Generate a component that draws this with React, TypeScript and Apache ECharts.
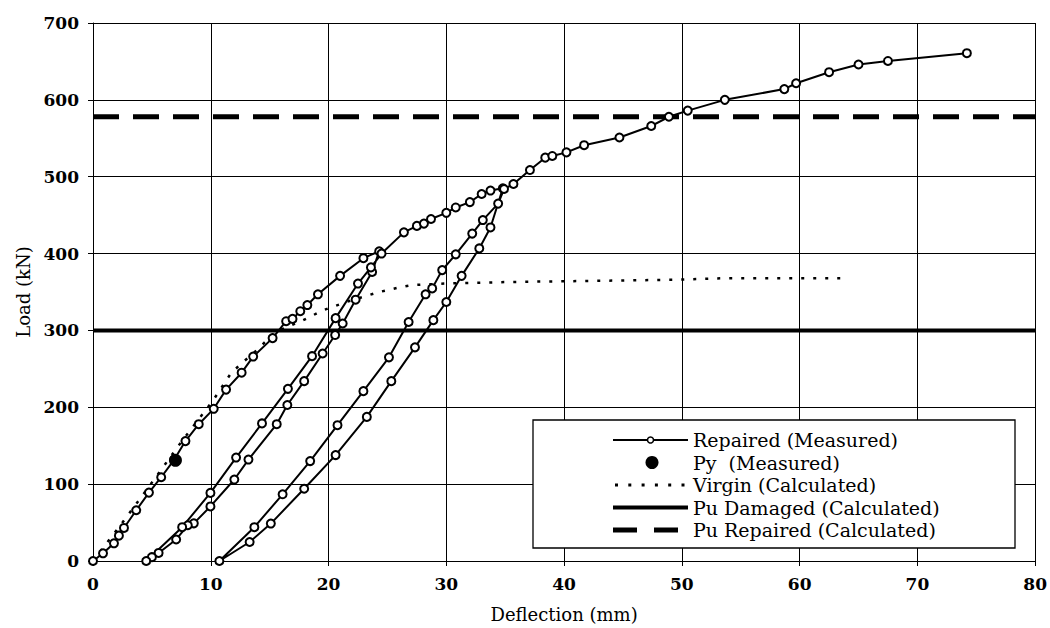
import React, { useEffect, useRef } from "react";
import * as echarts from "echarts";

// Repaired (Measured) – path segments in test order
const envelope1: number[][] = [
  [0, 0], [0.85, 10], [1.78, 23], [2.2, 33], [2.63, 43], [3.67, 66], [4.75, 89], [5.79, 109],
  [6.9, 132], [7.85, 156], [8.98, 178], [10.25, 198], [11.3, 223], [12.62, 245], [13.6, 266],
  [15.25, 290], [16.4, 312], [16.94, 315], [17.6, 325], [18.2, 333], [19.1, 347], [20.98, 371],
  [22.96, 394], [24.3, 403],
];
const unload1: number[][] = [
  [23.7, 376], [22.3, 340], [21.2, 309], [20.56, 294], [19.5, 270], [17.93, 234], [16.5, 203],
  [15.6, 178], [13.2, 132], [12.0, 106], [9.97, 71], [8.56, 49], [8.05, 46.5], [7.06, 28],
  [5.57, 10.5], [5.0, 5], [4.52, 0],
];
const reload1: number[][] = [
  [7.57, 44], [9.97, 88.6], [12.15, 134.6], [14.35, 179], [16.55, 224], [18.6, 266.5],
  [20.6, 316], [22.5, 361], [23.6, 382], [24.5, 400],
];
const envelope2: number[][] = [
  [26.4, 427.6], [27.5, 436], [28.1, 439], [28.7, 445], [30.0, 453], [30.8, 460], [32.0, 467],
  [33.0, 477.5], [33.75, 482], [34.8, 485],
];
const unload2: number[][] = [
  [33.75, 434], [32.8, 406.7], [31.3, 371], [30.0, 337], [28.9, 313.4], [27.34, 278],
  [25.33, 234], [23.25, 187.5], [20.6, 137.8], [17.93, 94], [15.1, 48.7], [13.3, 24.7], [10.73, 0],
];
const reload2: number[][] = [
  [13.7, 44], [16.1, 86.8], [18.44, 130], [20.76, 176.7], [22.96, 221], [25.13, 265], [26.8, 311],
  [28.24, 347], [28.8, 354.7], [29.65, 378.5], [30.8, 399], [32.2, 426], [33.1, 443.6], [34.4, 465],
  [34.9, 484],
];
const envelope3: number[][] = [
  [35.7, 490.5], [37.1, 508.7], [38.4, 524.8], [39.0, 527], [40.2, 531.7], [41.7, 541],
  [44.7, 551], [47.4, 566], [48.9, 578], [50.5, 586], [53.65, 600], [58.7, 614], [59.7, 621.6],
  [62.5, 636], [65.0, 646], [67.5, 650.6], [74.2, 660.7],
];

// Py (Measured)
const pyPoint: number[][] = [[7.0, 131]];

// Virgin (Calculated)
const virgin: number[][] = [
  [0, 0], [2.5, 50], [5, 102], [7.5, 155], [10.2, 209], [11.7, 244], [12.6, 257], [13.6, 270],
  [15.5, 298], [17.8, 313], [19.5, 326], [21.5, 337], [24.3, 350], [26, 356], [27.1, 359],
  [29.9, 361], [35.3, 363], [49.7, 366], [53.7, 368], [64, 368],
];

// Horizontal capacity lines
const puDamaged = 300;
const puRepaired = 578;
const xRange = [0, 80];

const xTicks = { min: 0, max: 80, interval: 10 };
const yTicks = { min: 0, max: 700, interval: 100 };

const legendNames = [
  "Repaired (Measured)",
  "Py  (Measured)",
  "Virgin (Calculated)",
  "Pu Damaged (Calculated)",
  "Pu Repaired (Calculated)",
];

const FONT = "DejaVu Serif";

function buildLegend() {
  const boxX = 533, boxY = 420, boxW = 482, boxH = 128;
  const iconX1 = 613, iconX2 = 688, textX = 693;
  const rowY = [440, 462.5, 485, 507.5, 530];
  const els: any[] = [
    {
      type: "rect",
      shape: { x: boxX, y: boxY, width: boxW, height: boxH },
      style: { fill: "#fff", stroke: "#000", lineWidth: 1.3 },
    },
    // Repaired: line with small hollow circle
    { type: "line", shape: { x1: iconX1, y1: rowY[0], x2: iconX2, y2: rowY[0] }, style: { stroke: "#000", lineWidth: 2 } },
    { type: "circle", shape: { cx: 650.5, cy: rowY[0], r: 3 }, style: { fill: "#fff", stroke: "#000", lineWidth: 1.5 } },
    // Py: filled dot
    { type: "circle", shape: { cx: 652, cy: rowY[1], r: 6.5 }, style: { fill: "#000" } },
    // Virgin: dotted
    { type: "line", shape: { x1: 615, y1: rowY[2], x2: iconX2, y2: rowY[2] }, style: { stroke: "#000", lineWidth: 3, lineDash: [3, 10.3] } },
    // Pu Damaged: thick solid
    { type: "line", shape: { x1: iconX1, y1: rowY[3], x2: iconX2, y2: rowY[3] }, style: { stroke: "#000", lineWidth: 4 } },
    // Pu Repaired: dashed
    { type: "line", shape: { x1: iconX1, y1: rowY[4], x2: 678, y2: rowY[4] }, style: { stroke: "#000", lineWidth: 5, lineDash: [24, 17] } },
  ];
  legendNames.forEach((name, i) => {
    els.push({
      type: "text",
      x: textX,
      y: rowY[i],
      style: { text: name, font: `19px "${FONT}"`, fill: "#000", align: "left", verticalAlign: "middle" },
    });
  });
  return { type: "group", z: 10, children: els.map((e) => ({ ...e, z: 10 })) };
}

export default function App() {
  const ref = useRef<HTMLDivElement>(null);
  useEffect(() => {
    const chart = echarts.init(ref.current!, null, { renderer: "svg" });
    const repaired = [
      ...envelope1, ...unload1, ...reload1, ...envelope2, ...unload2, ...reload2, ...envelope3,
    ];
    const option: any = {
      animation: false,
      backgroundColor: "#fff",
      grid: { left: 93, right: 12, top: 23, bottom: 67, containLabel: false },
      xAxis: {
        type: "value",
        ...xTicks,
        name: "Deflection (mm)",
        nameLocation: "middle",
        nameGap: 44,
        nameTextStyle: { fontFamily: FONT, fontSize: 18, color: "#000" },
        axisLine: { show: true, lineStyle: { color: "#000", width: 1 } },
        axisTick: { show: true, length: 5, lineStyle: { color: "#000" } },
        axisLabel: { fontFamily: FONT, fontWeight: "bold", fontSize: 17, color: "#000", margin: 14 },
        splitLine: { show: true, lineStyle: { color: "#000", width: 1 } },
      },
      yAxis: {
        type: "value",
        ...yTicks,
        name: "Load (kN)",
        nameLocation: "middle",
        nameGap: 61,
        nameTextStyle: { fontFamily: FONT, fontSize: 18, color: "#000" },
        axisLine: { show: true, lineStyle: { color: "#000", width: 1 } },
        axisTick: { show: true, length: 5, lineStyle: { color: "#000" } },
        axisLabel: { fontFamily: FONT, fontWeight: "bold", fontSize: 17, color: "#000", margin: 14 },
        splitLine: { show: true, lineStyle: { color: "#000", width: 1 } },
      },
      graphic: [buildLegend()],
      series: [
        {
          name: legendNames[3],
          type: "line",
          data: xRange.map((x) => [x, puDamaged]),
          symbol: "none",
          lineStyle: { color: "#000", width: 4 },
          itemStyle: { color: "#000" },
          z: 1,
        },
        {
          name: legendNames[4],
          type: "line",
          data: xRange.map((x) => [x, puRepaired]),
          symbol: "none",
          lineStyle: { color: "#000", width: 5, type: [26, 14] },
          itemStyle: { color: "#000" },
          z: 1,
        },
        {
          name: legendNames[2],
          type: "line",
          data: virgin,
          symbol: "none",
          lineStyle: { color: "#000", width: 2.5, type: [3, 9] },
          itemStyle: { color: "#000" },
          z: 1,
        },
        {
          name: legendNames[0],
          type: "line",
          data: repaired,
          clip: false,
          symbol: "circle",
          symbolSize: 8,
          showAllSymbol: true,
          lineStyle: { color: "#000", width: 2 },
          itemStyle: { color: "#fff", borderColor: "#000", borderWidth: 2 },
          z: 2,
        },
        {
          name: legendNames[1],
          type: "scatter",
          data: pyPoint,
          symbol: "circle",
          symbolSize: 13,
          itemStyle: { color: "#000", opacity: 1 },
          z: 3,
        },
      ],
    };
    chart.setOption(option);
    return () => chart.dispose();
  }, []);
  return (
    <div
      ref={ref}
      style={{ position: "fixed", left: 0, top: 0, width: 1050, height: 628, background: "#fff" }}
    />
  );
}
